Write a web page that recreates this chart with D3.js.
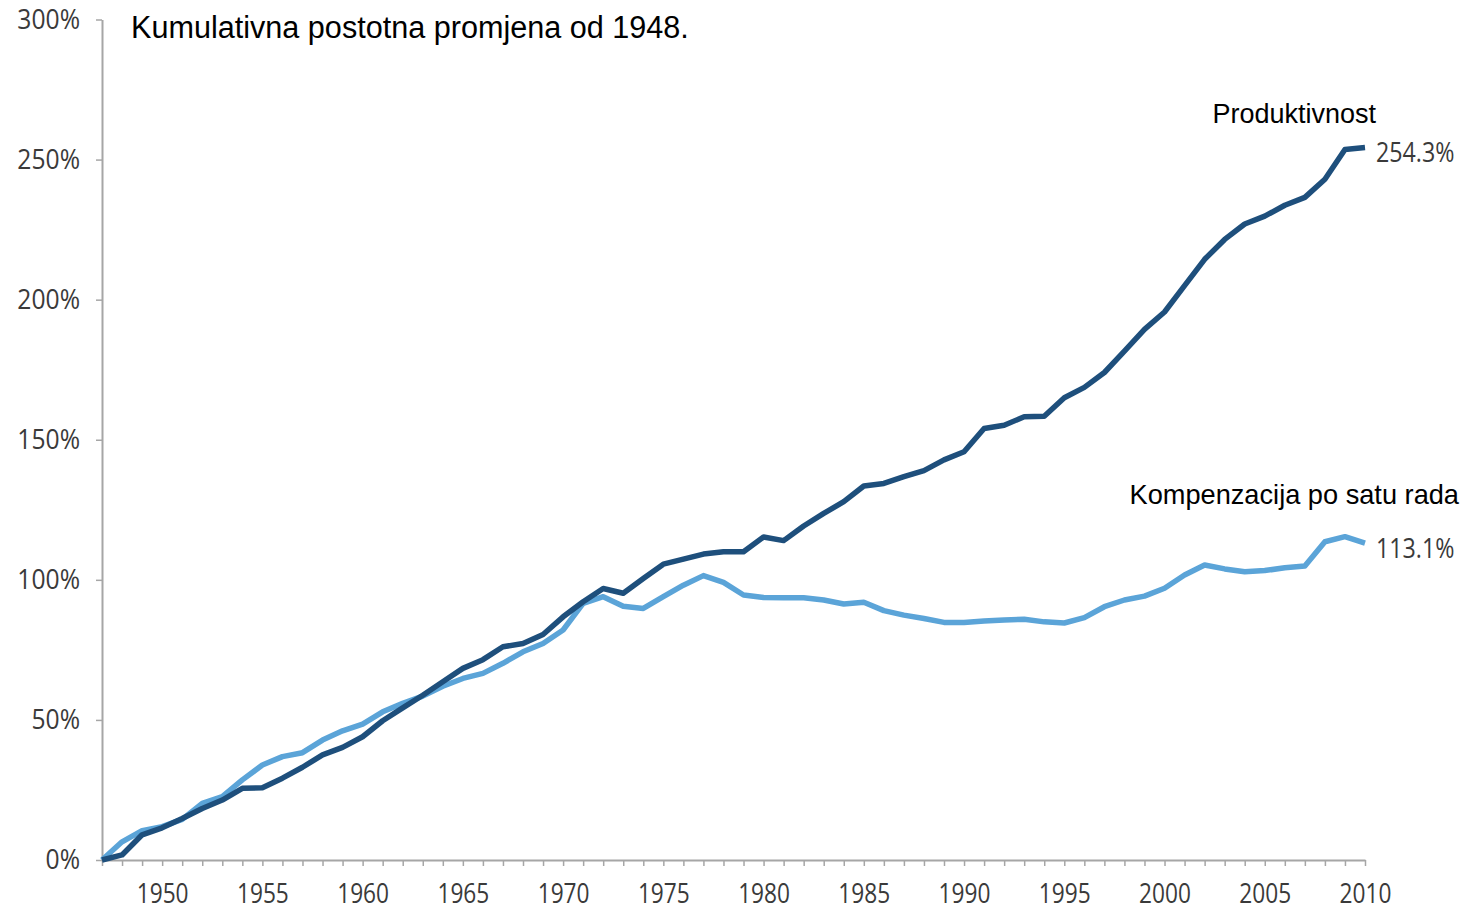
<!DOCTYPE html>
<html>
<head>
<meta charset="utf-8">
<script src="https://cdn.jsdelivr.net/npm/d3@7"></script>
<style>
  html, body { margin: 0; padding: 0; background: #fff; }
  svg { display: block; }
</style>
</head>
<body>
<svg id="chart" width="1468" height="912"></svg>
<script>
// ---- Data ----
const years = d3.range(1947, 2011);
const productivity = [
  0, 1.8, 9, 11.5, 14.8, 18.4, 21.4, 25.6, 25.8, 29.2,
  33.1, 37.5, 40.2, 44, 49.7, 54.3, 58.8, 63.6, 68.4, 71.5,
  76.1, 77.3, 80.5, 86.8, 92.2, 96.9, 95.2, 100.5, 105.6, 107.4,
  109.2, 110, 110, 115.3, 114, 119.2, 123.7, 127.9, 133.5, 134.4,
  136.8, 139, 142.8, 145.7, 154, 155.2, 158.2, 158.4, 165, 168.7,
  174, 181.6, 189.4, 195.6, 205, 214.4, 221.5, 227, 229.8, 233.7,
  236.5, 243, 253.6, 254.3
];
const compensation = [
  0, 6.5, 10.5, 11.9, 14.5, 20.2, 22.6, 28.6, 33.9, 36.9,
  38.3, 42.8, 46.1, 48.5, 52.9, 55.9, 58.5, 62, 64.8, 66.6,
  70.2, 74.3, 77.3, 82.1, 91.6, 94, 90.6, 89.8, 94, 98.1,
  101.5, 99.1, 94.6, 93.7, 93.6, 93.6, 92.8, 91.4, 92, 89,
  87.4, 86.2, 84.8, 84.8, 85.3, 85.7, 85.9, 85, 84.6, 86.5,
  90.4, 92.8, 94.2, 97, 101.7, 105.3, 103.9, 102.9, 103.3, 104.3,
  104.9, 113.6, 115.4, 113.1
];
const yTicks = [0, 50, 100, 150, 200, 250, 300];
const xLabelYears = [1950, 1955, 1960, 1965, 1970, 1975, 1980, 1985, 1990, 1995, 2000, 2005, 2010];
const titleText = "Kumulativna postotna promjena od 1948.";
const seriesNames = ["Produktivnost", "Kompenzacija po satu rada"];
const endLabels = ["254.3%", "113.1%"];

// ---- Layout ----
const svg = d3.select("#chart");
const x = d3.scaleLinear().domain([1947, 2010]).range([102, 1365]);
const y = d3.scaleLinear().domain([0, 300]).range([860, 19.5]);
const axisColor = "#a6a6a6";
const tickFont = "'Open Sans', 'DejaVu Sans', sans-serif";

function compress(sel, squeeze) {
  sel.each(function () {
    const w = this.getComputedTextLength();
    if (w > 0) {
      this.setAttribute("textLength", (w * squeeze).toFixed(2));
      this.setAttribute("lengthAdjust", "spacingAndGlyphs");
    }
  });
}

// Y axis
const yAxis = svg.append("g")
  .attr("transform", `translate(${x(1947)},0)`)
  .call(d3.axisLeft(y).tickValues(yTicks).tickSize(6).tickSizeOuter(0).tickPadding(16)
    .tickFormat(d => d + "%"));
yAxis.select(".domain").attr("stroke", axisColor).attr("stroke-width", 2);
yAxis.selectAll(".tick line").attr("stroke", axisColor).attr("stroke-width", 1.5);
yAxis.selectAll(".tick text")
  .attr("fill", "#3a3a3a").style("font-family", tickFont).style("font-size", "28px")
  .call(compress, 0.88);

// X axis
const xAxis = svg.append("g")
  .attr("transform", `translate(0,${y(0)})`)
  .call(d3.axisBottom(x).tickValues(years).tickSize(6).tickSizeOuter(0).tickPadding(17)
    .tickFormat(d => xLabelYears.includes(d) ? String(d) : ""));
xAxis.select(".domain").attr("stroke", axisColor).attr("stroke-width", 2);
xAxis.selectAll(".tick line").attr("stroke", axisColor).attr("stroke-width", 1.5);
xAxis.selectAll(".tick text")
  .attr("fill", "#3a3a3a").style("font-family", tickFont).style("font-size", "28px")
  .call(compress, 0.81);

// Lines
const line = d3.line().x((d, i) => x(years[i])).y(d => y(d));
svg.append("path").datum(compensation)
  .attr("fill", "none").attr("stroke", "#5ba4d8").attr("stroke-width", 5.5)
  .attr("stroke-linejoin", "round").attr("stroke-linecap", "butt")
  .attr("d", line);
svg.append("path").datum(productivity)
  .attr("fill", "none").attr("stroke", "#1e4f7c").attr("stroke-width", 5.5)
  .attr("stroke-linejoin", "round").attr("stroke-linecap", "butt")
  .attr("d", line);

// Title
svg.append("text")
  .attr("x", 131).attr("y", 38)
  .style("font-family", "'Liberation Sans', Arial, sans-serif").style("font-size", "30.6px")
  .attr("fill", "#000").text(titleText);

// Series labels
const lastYear = years[years.length - 1];
const seriesData = [productivity, compensation];
svg.append("text")
  .attr("x", x(lastYear) + 11).attr("y", y(productivity[productivity.length - 1]) - 25)
  .attr("text-anchor", "end")
  .style("font-family", "'Liberation Sans', Arial, sans-serif").style("font-size", "27px")
  .attr("fill", "#000").text(seriesNames[0]);
svg.append("text")
  .attr("x", x(lastYear) + 94).attr("y", y(compensation[compensation.length - 1]) - 39)
  .attr("text-anchor", "end")
  .style("font-family", "'Liberation Sans', Arial, sans-serif").style("font-size", "27.2px")
  .attr("fill", "#000").text(seriesNames[1]);

// End value labels
seriesData.forEach((s, k) => {
  svg.append("text")
    .attr("x", x(lastYear) + 11).attr("y", y(s[s.length - 1]) + 4)
    .attr("dominant-baseline", "central")
    .style("font-family", tickFont).style("font-size", "27px")
    .attr("fill", "#3a3a3a").text(endLabels[k])
    .call(compress, 0.86);
});
</script>
</body>
</html>
